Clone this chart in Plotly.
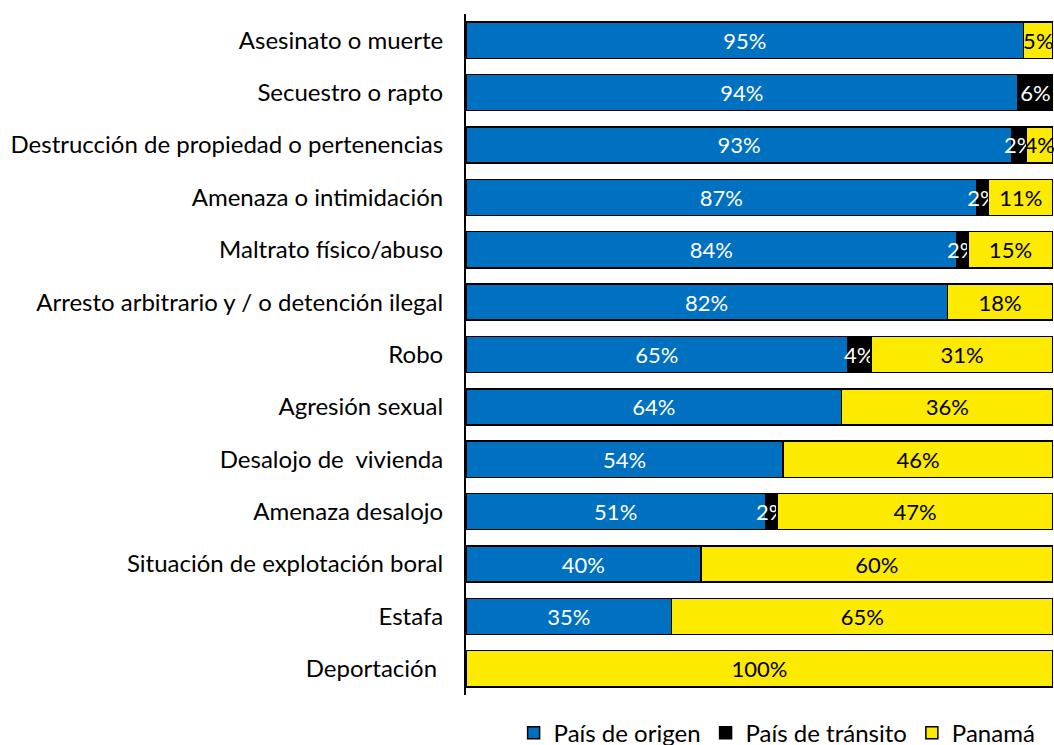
import plotly.graph_objects as go

categories = [
    "Asesinato o muerte",
    "Secuestro o rapto",
    "Destrucción de propiedad o pertenencias",
    "Amenaza o intimidación",
    "Maltrato físico/abuso",
    "Arresto arbitrario y / o detención ilegal",
    "Robo",
    "Agresión sexual",
    "Desalojo de  vivienda",
    "Amenaza desalojo",
    "Situación de explotación boral",
    "Estafa",
    "Deportación\u00a0",
]

# shares (%) per category
origen = [95, 94, 93, 87, 83.6, 82, 65, 64, 54, 51, 40, 35, None]
transito = [None, 6, 2.5, 2, 1.9, None, 4, None, None, 2, None, None, None]
panama = [5, None, 4.5, 11, 14.5, 18, 31, 36, 46, 47, 60, 65, 100]

# data labels as printed on the chart
origen_lbl = ["95%", "94%", "93%", "87%", "84%", "82%", "65%", "64%", "54%", "51%", "40%", "35%", ""]
transito_lbl = ["", "6%", "2%", "2%", "2%", "", "4%", "", "", "2%", "", "", ""]
panama_lbl = ["5%", "", "4%", "11%", "15%", "18%", "31%", "36%", "46%", "47%", "60%", "65%", "100%"]

series = [
    ("País de origen", origen, origen_lbl, "#0070C0", "white"),
    ("País de tránsito", transito, transito_lbl, "#000000", "white"),
    ("Panamá", panama, panama_lbl, "#FCEA00", "black"),
]

fig = go.Figure()
for name, vals, lbls, color, txtcolor in series:
    fig.add_trace(go.Bar(
        y=categories, x=vals, name=name, orientation="h",
        text=lbls, textposition="inside", insidetextanchor="middle",
        constraintext="none", textangle=0, cliponaxis=False,
        textfont=dict(color=txtcolor, size=22, family="Lato"),
        marker=dict(color=color, line=dict(color="black", width=1.5)),
        hoverinfo="skip",
    ))

fig.update_layout(
    barmode="stack",
    bargap=0.31,
    width=1054, height=745,
    margin=dict(l=466, r=1, t=14, b=50),
    plot_bgcolor="white", paper_bgcolor="white",
    font=dict(family="Lato", size=24, color="black"),
    showlegend=True,
    legend=dict(
        orientation="h", x=0.53, xanchor="center",
        yref="container", y=0.016, yanchor="middle",
        font=dict(size=24), traceorder="normal",
    ),
)
fig.update_xaxes(range=[0, 100], visible=False, showgrid=False)
fig.update_yaxes(
    autorange="reversed", showgrid=False, showline=True,
    linecolor="black", linewidth=2, ticks="", ticklabelstandoff=16,
    tickfont=dict(size=24, family="Lato"),
)

# page body has a default margin; drop it so the chart sits at the window origin
fig.write_html(
    "out.html",
    config={"displayModeBar": False},
    post_script="document.body.style.margin='0';",
)
